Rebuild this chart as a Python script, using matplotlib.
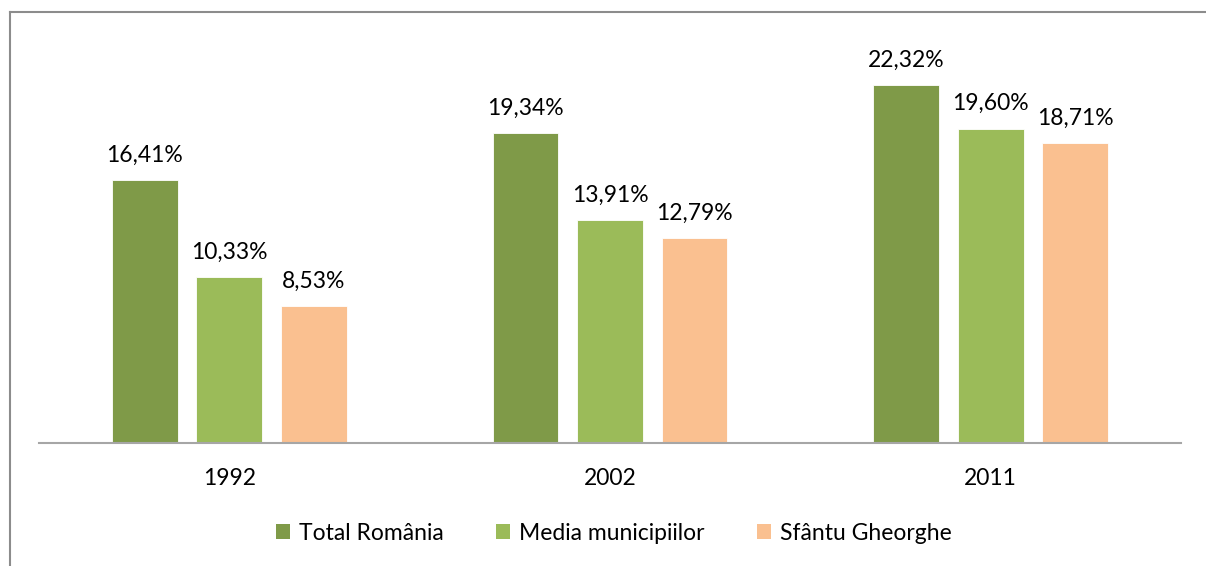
import numpy as np
import matplotlib
matplotlib.use("Agg")
import matplotlib.pyplot as plt
from matplotlib.lines import Line2D
from matplotlib.patches import Patch

years = ["1992", "2002", "2011"]
series_names = ["Total România", "Media municipiilor", "Sfântu Gheorghe"]
total_romania = [16.41, 19.34, 22.32]
media_municipiilor = [10.33, 13.91, 19.60]
sfantu_gheorghe = [8.53, 12.79, 18.71]
colors = ["#7F9A48", "#9BBB59", "#FAC090"]

plt.rcParams["font.family"] = ["Lato", "DejaVu Sans"]

W, H = 1206, 566
fig = plt.figure(figsize=(W / 100, H / 100), dpi=100)

# axes placed in pixel coordinates of the reference
ax_left, ax_right, ax_bottom, ax_top = 39, 1181, 443, 42
ax = fig.add_axes([ax_left / W, 1 - ax_bottom / H,
                   (ax_right - ax_left) / W, (ax_bottom - ax_top) / H])

x = np.arange(len(years))
width = 0.173
offset = 0.222
fs = 16.5

for i, (vals, col) in enumerate(zip([total_romania, media_municipiilor, sfantu_gheorghe], colors)):
    pos = x + (i - 1) * offset
    bars = ax.bar(pos, vals, width, color=col, edgecolor="white", linewidth=0.6)
    for b, v in zip(bars, vals):
        ax.text(b.get_x() + b.get_width() / 2, v + 0.9, f"{v:.2f}%".replace(".", ","),
                ha="center", va="bottom", fontsize=fs, color="black")

ax.set_xlim(-0.5, 2.5)
ax.set_ylim(0, 25)
ax.set_xticks(x)
ax.set_xticklabels(years, fontsize=fs)
ax.tick_params(axis="x", length=0, pad=18)
ax.set_yticks([])
for s in ["left", "right", "top"]:
    ax.spines[s].set_visible(False)
ax.spines["bottom"].set_color("#A6A6A6")
ax.spines["bottom"].set_linewidth(1.5)

# outer chart frame (only left and top visible in the crop)
fig.add_artist(Line2D([10 / W, 10 / W], [0, 1 - 12 / H], color="#8C8C8C", lw=1.5,
                      transform=fig.transFigure))
fig.add_artist(Line2D([10 / W, 1], [1 - 12 / H, 1 - 12 / H], color="#8C8C8C", lw=1.5,
                      transform=fig.transFigure))

handles = [Patch(facecolor=c, edgecolor="none") for c in colors]
fig.legend(handles, series_names, loc="center", bbox_to_anchor=(614 / W, 1 - 533 / H),
           ncol=3, frameon=False, fontsize=fs, handlelength=0.6, handleheight=0.6,
           handletextpad=0.4, columnspacing=2.3)

fig.savefig("out.png", dpi=100)
